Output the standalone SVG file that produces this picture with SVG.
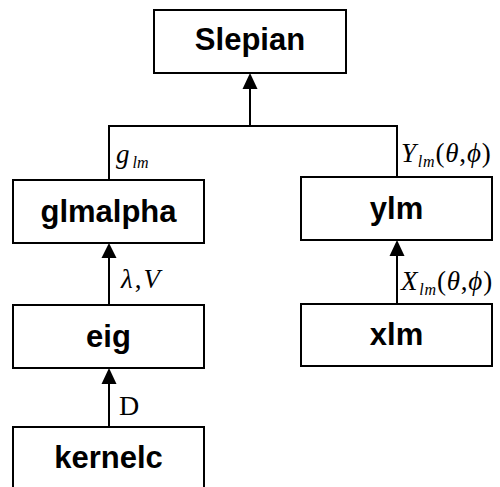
<svg xmlns="http://www.w3.org/2000/svg" width="500" height="487" viewBox="0 0 500 487">
<style>
.box{fill:#fff;stroke:#000;stroke-width:2}
.lbl{font-family:"Liberation Sans",Arial,sans-serif;font-weight:bold;font-size:31px;text-anchor:middle;fill:#000}
.m{font-family:"Liberation Serif","Times New Roman",serif;font-size:27px;fill:#000}
.i{font-style:italic}
.sub{font-size:16px;font-style:italic}
.c{fill:none;stroke:#000;stroke-width:2}
.ah{fill:#000}
</style>
<rect width="500" height="487" fill="#fff"/>
<g id="connectors">
<path class="c" d="M109,180 V126 H397 V177"/>
<path class="c" d="M250,126 V88"/>
<polygon class="ah" points="250,73 242.5,89 257.5,89"/>
<path class="c" d="M109,305 V257"/>
<polygon class="ah" points="109,243 101.5,258 116.5,258"/>
<path class="c" d="M397,304 V256"/>
<polygon class="ah" points="397,240 389.5,256 404.5,256"/>
<path class="c" d="M109,427 V384"/>
<polygon class="ah" points="109,368 101.5,384 116.5,384"/>
<text class="m" x="116" y="163"><tspan class="i">g</tspan><tspan class="sub" dx="3" dy="5">lm</tspan></text>
<text class="m" x="401" y="162" letter-spacing="0.8"><tspan class="i">Y</tspan><tspan class="sub" dx="1" dy="5">lm</tspan><tspan dy="-5">(</tspan><tspan class="i">θ</tspan>,<tspan class="i">ϕ</tspan>)</text>
<text class="m" x="121" y="288" letter-spacing="2"><tspan class="i">λ</tspan>,<tspan class="i">V</tspan></text>
<text class="m" x="401" y="290" letter-spacing="0.8"><tspan class="i">X</tspan><tspan class="sub" dx="1" dy="5">lm</tspan><tspan dy="-5">(</tspan><tspan class="i">θ</tspan>,<tspan class="i">ϕ</tspan>)</text>
<text class="m" x="119" y="415" style="font-size:28px">D</text>
</g>
<g id="Slepian"><rect class="box" x="154" y="10" width="192" height="63"/><text class="lbl" x="250" y="50">Slepian</text></g>
<g id="glmalpha"><rect class="box" x="13" y="180" width="191" height="63"/><text class="lbl" x="108.5" y="222">glmalpha</text></g>
<g id="ylm"><rect class="box" x="301" y="177" width="191" height="63"/><text class="lbl" x="396.5" y="219">ylm</text></g>
<g id="eig"><rect class="box" x="13" y="305" width="191" height="63"/><text class="lbl" x="108.5" y="347">eig</text></g>
<g id="xlm"><rect class="box" x="301" y="304" width="191" height="62"/><text class="lbl" x="396.5" y="345">xlm</text></g>
<g id="kernelc"><rect class="box" x="13" y="427" width="191" height="70"/><text class="lbl" x="108.5" y="468">kernelc</text></g>
</svg>
